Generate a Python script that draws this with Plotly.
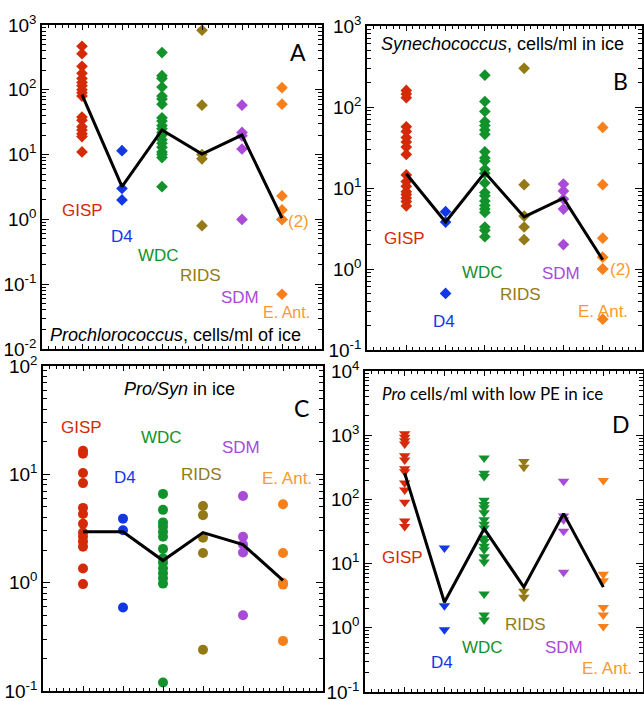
import numpy as np
import plotly.graph_objects as go

sites = ["GISP", "D4", "WDC", "RIDS", "SDM", "E. Ant."]
site_colors = ["#d42a08", "#1238e6", "#12922a", "#937a17", "#a94ad8", "#f7801a"]
label_colors = ["#d42a08", "#1238e6", "#12922a", "#937a17", "#a94ad8", "#f99a30"]

# A: Prochlorococcus, cells/ml of ice
pro_A = [
    [470, 360, 230, 180, 150, 130, 115, 100, 90, 80, 38, 34, 27, 24, 21, 19, 11],
    [11.5, 3.0, 2.0],
    [375, 165, 150, 110, 80, 72, 60, 37, 33, 28, 25, 22, 20, 17, 15, 13, 11, 10, 9, 3.2],
    [830, 58, 10, 8.6, 0.8],
    [58, 22, 19.5, 12.2, 1.0],
    [108, 60, 2.3, 1.4, 1.0, 1.0, 0.07],
]
mid_A = [84, 3.2, 24, 10.2, 20, 1.05]

# B: Synechococcus, cells/ml in ice
syn_B = [
    [160, 145, 130, 57, 50, 42, 37, 32, 26, 14.5, 12, 10.5, 9, 8.3, 7.5, 6.8, 6.0],
    [5.1, 3.8, 0.5],
    [247, 117, 88, 66, 59, 52, 46, 28, 23.5, 21.5, 17, 15.2, 11.5, 8.8, 8.0, 6.9, 6.1, 5.5, 5.0, 3.3, 3.0, 2.5],
    [300, 11, 4.5, 3.3, 2.3],
    [11.2, 9.2, 7.3, 5.5, 2.0],
    [56, 11, 2.4, 1.4, 1.0, 1.0, 0.24],
]
mid_B = [15, 3.8, 15.5, 4.4, 7.5, 1.3]

# C: Pro/Syn ratio in ice
ratio_C = [
    [16.5, 15.5, 10.3, 8.3, 4.9, 4.3, 3.5, 2.9, 2.65, 2.4, 2.15, 1.35, 0.97],
    [3.9, 3.05, 0.59],
    [6.6, 4.7, 3.6, 3.3, 2.95, 2.65, 2.05, 1.68, 1.53, 1.36, 1.22, 1.1, 0.98, 0.12],
    [5.1, 4.2, 2.6, 1.88, 0.24],
    [6.3, 2.65, 2.25, 1.9, 0.5],
    [5.3, 1.88, 1.0, 0.96, 0.29],
]
mid_C = [2.95, 2.95, 1.6, 2.9, 2.25, 1.05]

# D: Pro cells/ml with low PE in ice
lowpe_D = [
    [1050, 930, 820, 730, 480, 410, 300, 270, 180, 140, 90, 46, 38],
    [17.5, 2.2, 0.93],
    [440, 256, 228, 97, 83, 74, 62, 48, 41, 36, 25, 22, 18.7, 16.5, 12.8, 10.6, 3.35, 1.58, 1.32],
    [390, 318, 3.7, 3.0],
    [192, 55, 48, 32, 7.3],
    [197, 6.8, 5.4, 2.07, 1.58, 1.05],
]
mid_D = [256, 2.5, 35, 4.3, 60, 4.3]

W, H = 644, 701


def px_x(a, b):
    return [a / W, b / W]


def px_y(top, bottom):
    return [1 - bottom / H, 1 - top / H]


panels = [
    dict(key="", data=pro_A, mid=mid_A, symbol="diamond", size=9, yr=(-2, 3),
         dx=px_x(42, 322), dy=px_y(25, 349)),
    dict(key="2", data=syn_B, mid=mid_B, symbol="diamond", size=9, yr=(-1, 3),
         dx=px_x(367, 642), dy=px_y(26, 350)),
    dict(key="3", data=ratio_C, mid=mid_C, symbol="circle", size=10, yr=(-1, 2),
         dx=px_x(43, 323), dy=px_y(366, 691)),
    dict(key="4", data=lowpe_D, mid=mid_D, symbol="triangle-down", size=10, yr=(-1, 4),
         dx=px_x(365, 643), dy=px_y(371, 692)),
]

BASE_FONT = "Liberation Sans, Arial, sans-serif"
ALT_FONT = "Lato, Open Sans, sans-serif"

fig = go.Figure()
layout = dict(
    width=W, height=H,
    margin=dict(l=0, r=0, t=0, b=0, pad=0, autoexpand=False),
    paper_bgcolor="white", plot_bgcolor="white", showlegend=False,
    font=dict(family=BASE_FONT, color="black"),
)

for p in panels:
    k = p["key"]
    xa, ya = "x" + k, "y" + k
    for i, vals in enumerate(p["data"]):
        fig.add_trace(go.Scatter(
            x=[i + 1] * len(vals), y=vals, mode="markers", xaxis=xa, yaxis=ya,
            marker=dict(symbol=p["symbol"], size=p["size"], color=site_colors[i],
                        line=dict(width=0)),
            hoverinfo="y",
        ))
    fig.add_trace(go.Scatter(
        x=list(range(1, 7)), y=p["mid"], mode="lines", xaxis=xa, yaxis=ya,
        line=dict(color="black", width=3), hoverinfo="y",
    ))

    lo, hi = p["yr"]
    majors = [10.0 ** e for e in range(lo, hi + 1)]
    texts = ["10<sup>%d</sup>" % e for e in range(lo, hi + 1)]
    minors = [m * 10.0 ** e for e in range(lo, hi) for m in range(2, 10)]

    layout["xaxis" + k] = dict(
        domain=p["dx"], anchor=ya, range=[0, 7], showgrid=False, zeroline=False,
        showline=True, linecolor="black", linewidth=1.5, mirror="allticks",
        ticks="inside", tickmode="linear", tick0=0, dtick=1, ticklen=5,
        tickcolor="black", tickwidth=1, showticklabels=False, automargin=False,
        minor=dict(ticks="inside", dtick=1 / 6, tick0=0, ticklen=3,
                   tickcolor="black", tickwidth=1, showgrid=False),
    )
    layout["yaxis" + k] = dict(
        domain=p["dy"], anchor=xa, type="log", range=[lo, hi], showgrid=False,
        zeroline=False, showline=True, linecolor="black", linewidth=1.5,
        mirror="allticks", ticks="inside", tickmode="array", tickvals=majors,
        ticktext=texts, ticklen=7, tickcolor="black", tickwidth=1,
        automargin=False, ticklabeloverflow="allow",
        tickfont=dict(size=19, family=BASE_FONT, color="black"),
        minor=dict(ticks="inside", tickvals=minors, ticklen=4,
                   tickcolor="black", tickwidth=1, showgrid=False),
    )

annotations = []


def note(k, x, yval, text, color="black", size=17, family=BASE_FONT,
         xanchor="center"):
    annotations.append(dict(
        xref="x" + k, yref="y" + k, x=x, y=float(np.log10(yval)), text=text,
        showarrow=False, xanchor=xanchor, yanchor="middle",
        font=dict(size=size, color=color, family=family),
    ))


# A labels
lab_A = [(1.0, 1.39), (2.0, 0.54), (2.9, 0.28), (3.95, 0.137), (4.95, 0.062), (6.1, 0.037)]
for i, (x, y) in enumerate(lab_A):
    note("", x, y, sites[i], label_colors[i], size=16 if i == 5 else 17)
note("", 6.4, 0.94, "(2)", label_colors[5], size=17)
note("", 6.4, 390, "A", size=23, family=ALT_FONT)
note("", 0.15, 10 ** -1.78, "<i>Prochlorococcus</i>, cells/ml of ice", size=18,
     xanchor="left")

# B labels
lab_B = [(0.95, 2.38), (1.95, 0.225), (2.95, 0.91), (3.9, 0.49), (4.95, 0.88), (6.0, 0.3)]
for i, (x, y) in enumerate(lab_B):
    note("2", x, y, sites[i], label_colors[i])
note("2", 6.45, 0.98, "(2)", label_colors[5], size=17)
note("2", 6.45, 207, "B", size=23, family=ALT_FONT)
note("2", 0.3, 10 ** 2.78, "<i>Synechococcus</i>, cells/ml in ice", size=18,
     xanchor="left")

# C labels
lab_C = [(0.95, 27.2), (2.05, 9.4), (2.95, 21.7), (3.95, 9.9), (4.95, 17.8), (6.1, 9.2)]
for i, (x, y) in enumerate(lab_C):
    note("3", x, y, sites[i], label_colors[i])
note("3", 6.45, 10 ** 1.61, "C", size=23, family=ALT_FONT)
note("3", 3.4, 10 ** 1.785, "<i>Pro/Syn</i> in ice", size=18)

# D labels
lab_D = [(0.95, 12.6), (1.95, 0.29), (2.95, 0.5), (4.05, 1.12), (5.0, 0.5), (6.1, 0.23)]
for i, (x, y) in enumerate(lab_D):
    note("4", x, y, sites[i], label_colors[i])
note("4", 6.45, 10 ** 3.18, "D", size=23, family=ALT_FONT)
note("4", 3.2, 10 ** 3.65, "<i>Pro</i> cells/ml with low PE in ice", size=17,
     family=ALT_FONT)

layout["annotations"] = annotations
fig.update_layout(**layout)
fig.write_html("out.html")
